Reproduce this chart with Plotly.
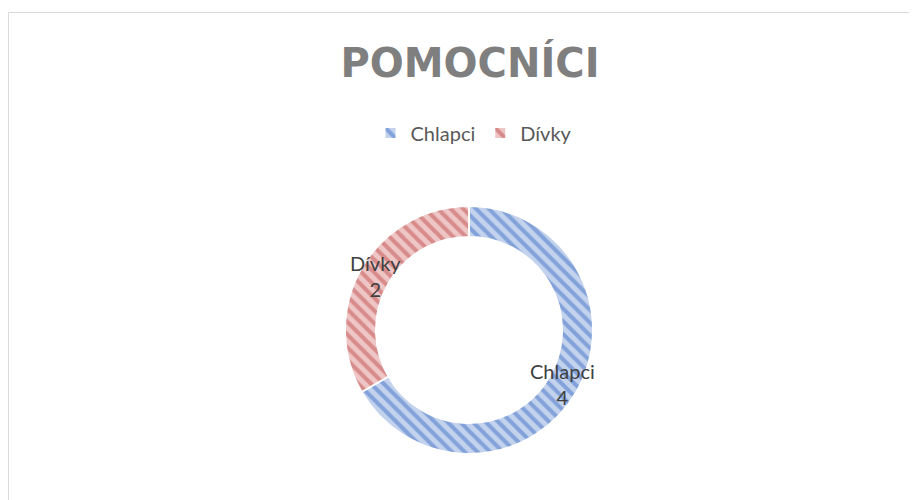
import math
import plotly.graph_objects as go

# Data
labels = ['Chlapci', 'Dívky']
values = [4, 2]
title_text = 'POMOCNÍCI'

# the page body adds an 8px margin, so the figure is a bit smaller
# and all layout positions below are given relative to that offset
OFF = 8
W, H = 917 - OFF, 500 - OFF

# donut geometry in pixels (centre and outer radius)
CX, CY, R = 469 - OFF, 330 - OFF, 124
HOLE = 0.75

fig = go.Figure()

fig.add_trace(go.Pie(
    labels=labels,
    values=values,
    hole=HOLE,
    sort=False,
    direction='clockwise',
    rotation=0,
    textinfo='none',
    marker=dict(
        colors=['#c3d3ee', '#efc6c6'],
        line=dict(color='white', width=2),
        pattern=dict(shape='\\', fgcolor=['#4472c4', '#c0504d'], size=9, solidity=0.45,
                     fillmode='overlay'),
    ),
    domain=dict(x=[(CX - R) / W, (CX + R) / W],
                y=[1 - (CY + R) / H, 1 - (CY - R) / H]),
    showlegend=True,
    hoverinfo='label+value+percent',
))

# data labels at the middle of each ring segment (horizontal text)
total = sum(values)
r_mid = R * (1 + HOLE) / 2
annotations = []
cum = 0
for lab, val in zip(labels, values):
    ang = (cum + val / 2) / total * 2 * math.pi
    cum += val
    px = CX + r_mid * math.sin(ang)
    py = CY - r_mid * math.cos(ang)
    annotations.append(dict(
        x=px / W, y=1 - py / H, xref='paper', yref='paper',
        text=f'{lab}<br>{val}', showarrow=False,
        xanchor='center', yanchor='middle',
        font=dict(family='Lato, Noto Sans, sans-serif', size=20, color='#404040'),
    ))

fig.update_layout(
    width=W, height=H,
    margin=dict(l=0, r=0, t=0, b=0),
    paper_bgcolor='white',
    plot_bgcolor='white',
    annotations=annotations,
    title=dict(
        text=f'<b>{title_text}</b>',
        x=(470 - OFF) / W, xanchor='center',
        y=1 - (63 - OFF) / H, yanchor='middle',
        font=dict(family='DejaVu Sans, sans-serif', size=40, color='#7f7f7f'),
    ),
    legend=dict(
        orientation='h',
        x=(474 - OFF) / W, xanchor='center',
        y=1 - (133 - OFF) / H, yanchor='middle',
        font=dict(family='Lato, Noto Sans, sans-serif', size=20, color='#595959'),
        itemwidth=30,
        traceorder='normal',
    ),
    shapes=[dict(
        type='rect', xref='paper', yref='paper',
        x0=0.5 / W, x1=1.05, y0=-0.05, y1=1 - (12.5 - OFF) / H,
        line=dict(color='#d9d9d9', width=1),
    )],
)

fig.write_html('out.html')
